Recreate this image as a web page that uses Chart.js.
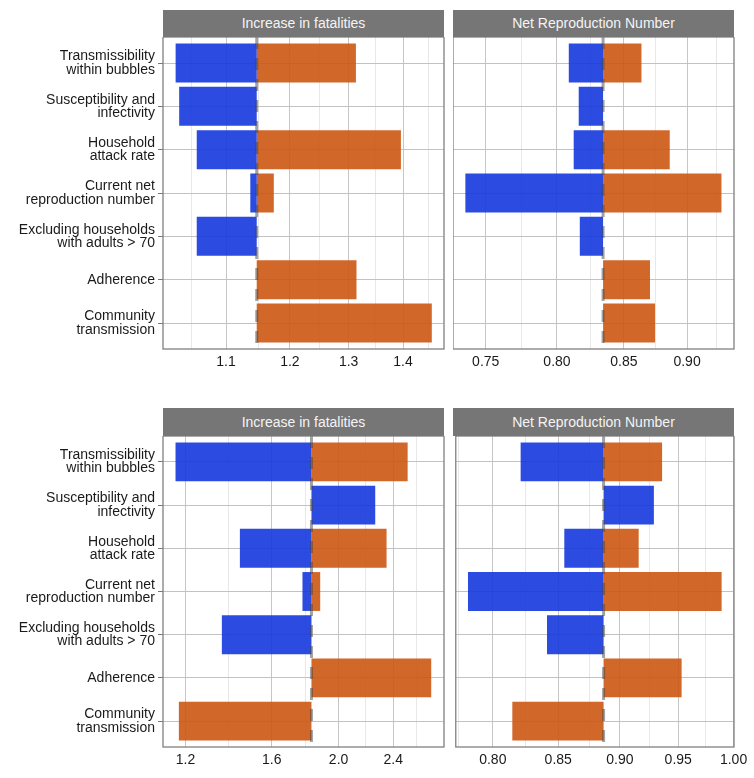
<!DOCTYPE html>
<html>
<head>
<meta charset="utf-8">
<script src="https://cdn.jsdelivr.net/npm/chart.js@4/dist/chart.umd.min.js"></script>
<style>
  body { margin: 0; background: #fff; }
  #wrap { position: relative; width: 754px; height: 778px; }
  canvas { position: absolute; }
  .strip {
    position: absolute; width: 281px; height: 27px; line-height: 27px;
    background: #767676; color: #f4f4f4; text-align: center;
    font-family: "Liberation Sans", Arial, sans-serif; font-size: 14px;
  }
</style>
</head>
<body>
<div id="wrap">
  <div class="strip" style="left:163px; top:10px;">Increase in fatalities</div>
  <div class="strip" style="left:453px; top:10px;">Net Reproduction Number</div>
  <div class="strip" style="left:163px; top:408px; height:28px; line-height:28px;">Increase in fatalities</div>
  <div class="strip" style="left:453px; top:408px; height:28px; line-height:28px;">Net Reproduction Number</div>
  <canvas id="tl" width="452" height="342" style="left:0; top:37px;"></canvas>
  <canvas id="tr" width="301" height="342" style="left:453px; top:37px;"></canvas>
  <canvas id="bl" width="452" height="341" style="left:0; top:436px;"></canvas>
  <canvas id="br" width="301" height="341" style="left:453px; top:436px;"></canvas>
</div>
<script>
// categories (top to bottom)
const categories = [
  ['Transmissibility', 'within bubbles'],
  ['Susceptibility and', 'infectivity'],
  ['Household', 'attack rate'],
  ['Current net', 'reproduction number'],
  ['Excluding households', 'with adults > 70'],
  ['Adherence'],
  ['Community', 'transmission']
];

// top row
const topFatalBase = 1.147;
const topFatalLow  = [1.027, 1.032, 1.057, 1.137, 1.057, null, null];
const topFatalHigh = [1.313, null, 1.396, 1.174, null, 1.314, 1.456];
const topFatalTicks = [1.1, 1.2, 1.3, 1.4];
const topFatalTickLabels = ['1.1', '1.2', '1.3', '1.4'];
const topFatalMinor = [1.049, 1.149, 1.249, 1.349, 1.449];

const topRBase = 0.8341;
const topRLow  = [0.8086, 0.8159, 0.8122, 0.7363, 0.8167, null, null];
const topRHigh = [0.8636, null, 0.8860, 0.9285, null, 0.8703, 0.8743];
const topRTicks = [0.75, 0.80, 0.85, 0.90];
const topRTickLabels = ['0.75', '0.80', '0.85', '0.90'];
const topRMinor = [0.7746, 0.8246, 0.8746, 0.9247];

// bottom row
const botFatalBase = 1.827;
const botFatalLow  = [1.161, 2.260, 1.439, 1.773, 1.355, null, null];
const botFatalHigh = [2.518, null, 2.347, 1.881, null, 2.724, 1.174];
const botFatalTicks = [1.2, 1.6, 2.0, 2.4];
const botFatalTickLabels = ['1.2', '1.6', '2.0', '2.4'];
const botFatalMinor = [1.386, 1.789, 2.191, 2.592];

const botRBase = 0.8865;
const botRLow  = [0.8209, 0.9288, 0.8548, 0.7818, 0.8412, null, null];
const botRHigh = [0.9359, null, 0.9158, 0.9890, null, 0.9530, 0.8146];
const botRTicks = [0.80, 0.85, 0.90, 0.95, 1.00];
const botRTickLabels = ['0.80', '0.85', '0.90', '0.95', '1.00'];
const botRMinor = [0.7746, 0.8246, 0.8746, 0.9247, 0.9747];

const FONT = '"Liberation Sans", Arial, sans-serif';
const BLUE = 'rgba(20, 55, 222, 0.9)';
const ORANGE = 'rgba(204, 86, 18, 0.9)';

// border round the panel + dashed reference line
const panelDecor = {
  id: 'panelDecor',
  afterDatasetsDraw(chart, args, opts) {
    const { ctx, chartArea: a, scales } = chart;
    const px = scales.x.getPixelForValue(opts.base);
    ctx.save();
    ctx.strokeStyle = 'rgba(70,70,70,0.5)';
    ctx.lineWidth = 3;
    ctx.setLineDash([12, 9]);
    ctx.beginPath();
    ctx.moveTo(px, a.top);
    ctx.lineTo(px, a.bottom);
    ctx.stroke();
    ctx.setLineDash([]);
    ctx.strokeStyle = '#808080';
    ctx.lineWidth = 1.3;
    ctx.strokeRect(a.left, a.top, a.right - a.left, a.bottom - a.top);
    ctx.restore();
  }
};

function toBars(values, base) {
  const out = [];
  values.forEach((v, i) => {
    if (v !== null) out.push({ y: i, x: [base, v] });
  });
  return out;
}

function makePanel(id, low, high, base, min, max, ticks, tickLabels, minor, showLabels, padRight) {
  const allTicks = ticks.concat(minor).sort((a, b) => a - b);
  new Chart(document.getElementById(id), {
    type: 'bar',
    plugins: [panelDecor],
    data: {
      datasets: [
        { data: toBars(low, base), backgroundColor: BLUE, grouped: false, barPercentage: 0.9, categoryPercentage: 1 },
        { data: toBars(high, base), backgroundColor: ORANGE, grouped: false, barPercentage: 0.9, categoryPercentage: 1 }
      ]
    },
    options: {
      indexAxis: 'y',
      responsive: false,
      animation: false,
      layout: { padding: { left: 0, top: 0, right: padRight, bottom: 0 } },
      plugins: {
        legend: { display: false },
        tooltip: { enabled: false },
        panelDecor: { base: base }
      },
      scales: {
        x: {
          type: 'logarithmic',
          min: min, max: max, bounds: 'data',
          afterBuildTicks: s => { s.ticks = allTicks.map(v => ({ value: v })); },
          ticks: {
            autoSkip: false, maxRotation: 0, padding: 5, color: '#1a1a1a',
            font: { family: FONT, size: 14 },
            callback: v => {
              const k = ticks.indexOf(v);
              return k >= 0 ? tickLabels[k] : '';
            }
          },
          grid: {
            color: c => (c.tick && ticks.includes(c.tick.value)) ? '#c6c6c6' : '#e8e8e8',
            drawTicks: false, tickLength: 0
          },
          border: { display: false },
          afterFit: s => { s.height = 30; }
        },
        y: {
          type: 'linear', reverse: true, min: -0.6, max: 6.6, bounds: 'data',
          offset: false,
          afterBuildTicks: s => { s.ticks = categories.map((c, i) => ({ value: i })); },
          ticks: {
            display: showLabels, autoSkip: false, padding: 3, color: '#1a1a1a',
            font: { family: FONT, size: 14, lineHeight: 0.95 },
            callback: v => categories[v]
          },
          grid: { offset: false, color: '#c2c2c2', drawTicks: showLabels, tickLength: 5, tickColor: '#777' },
          border: { display: false },
          afterFit: s => {
            s.width = showLabels ? 163 : 0;
            s.paddingTop = 0;
            s.paddingBottom = 0;
          }
        }
      }
    }
  });
}

makePanel('tl', topFatalLow, topFatalHigh, topFatalBase, 1.0095, 1.4804,
  topFatalTicks, topFatalTickLabels, topFatalMinor, true, 8);
makePanel('tr', topRLow, topRHigh, topRBase, 0.7281, 0.9391,
  topRTicks, topRTickLabels, topRMinor, false, 20);
makePanel('bl', botFatalLow, botFatalHigh, botFatalBase, 1.1135, 2.8426,
  botFatalTicks, botFatalTickLabels, botFatalMinor, true, 8);
makePanel('br', botRLow, botRHigh, botRBase, 0.7730, 1.0004,
  botRTicks, botRTickLabels, botRMinor, false, 20);
</script>
</body>
</html>
